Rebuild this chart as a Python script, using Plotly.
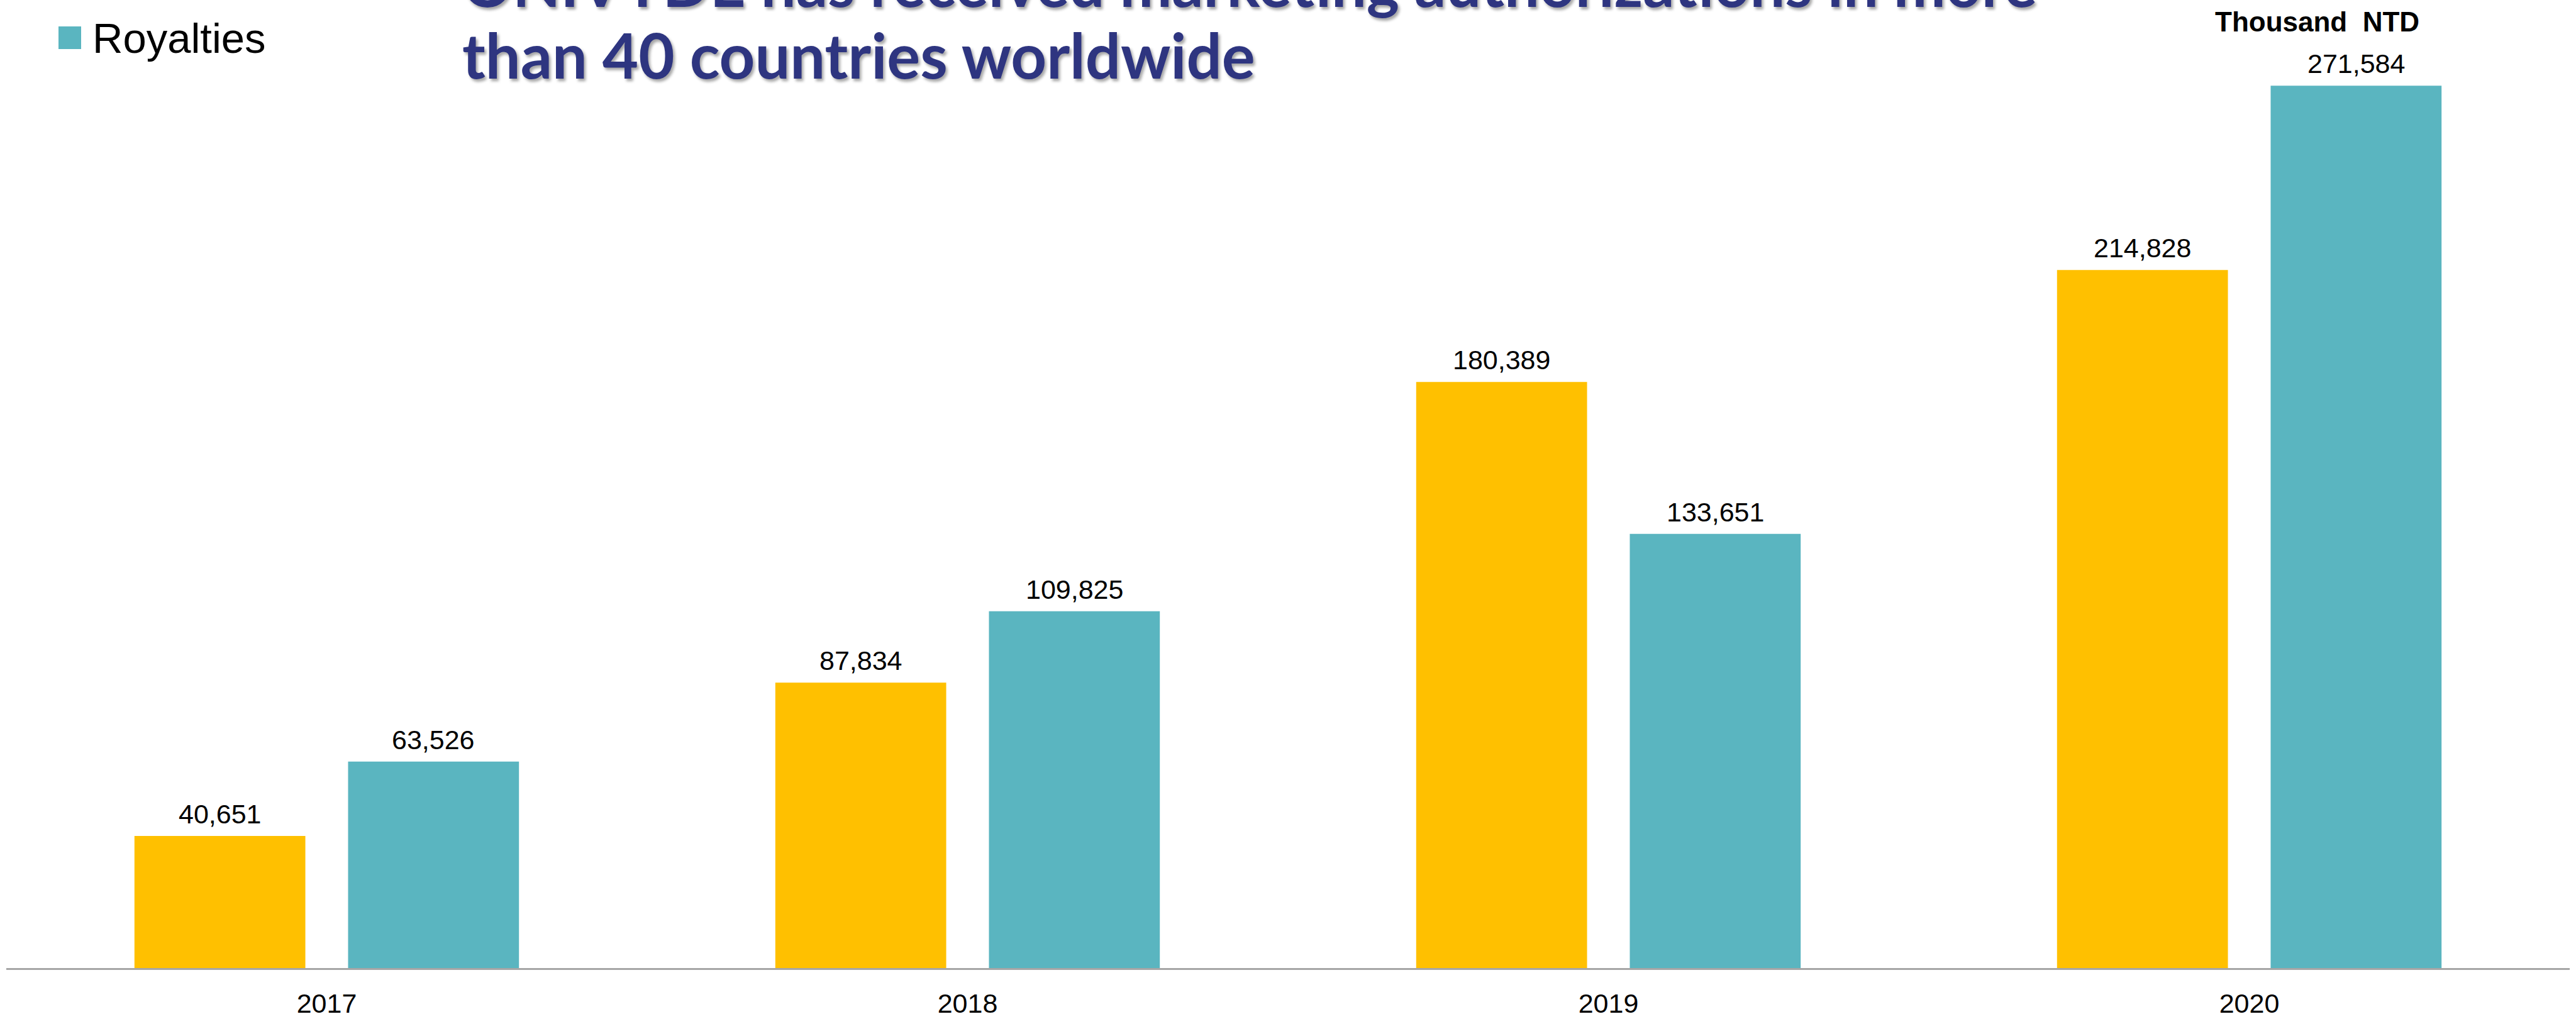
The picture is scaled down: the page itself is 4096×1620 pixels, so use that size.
import plotly.graph_objects as go

years = ["2017", "2018", "2019", "2020"]
other_revenue = [40651, 87834, 180389, 214828]
royalties = [63526, 109825, 133651, 271584]

title_line1 = "ONIVYDE has received marketing authorizations in more"
title_line2 = "than 40 countries worldwide"
legend_label = "Royalties"
unit_label = "Thousand  NTD"

YELLOW = "#FFC000"
TEAL = "#5AB5C0"
NAVY = "#2E3580"

W, H = 4096, 1620
ML, MR, MT, MB = 10, 10, 0, 81
PW, PH = W - ML - MR, H - MT - MB

BARGAP, GROUPGAP = 1 / 3, 0.2
LABEL_FONT = dict(family="Liberation Sans, Arial", size=43, color="black")


def px(x):
    return (x - ML) / PW


def py(y):
    return 1 - (y - MT) / PH


fig = go.Figure()
fig.add_trace(go.Bar(
    x=years, y=other_revenue, name="Other revenue", showlegend=False,
    marker=dict(color=YELLOW, line=dict(width=0)),
))
fig.add_trace(go.Bar(
    x=years, y=royalties, name=legend_label, showlegend=False,
    marker=dict(color=TEAL, line=dict(width=0)),
))

# value labels above bars, anchored at the data values (category index on x)
cat_px = PW / len(years)
slot_px = cat_px * (1 - BARGAP) / 2
for series, side in ((other_revenue, -1), (royalties, 1)):
    for i, v in enumerate(series):
        fig.add_annotation(x=i, y=v, xref="x", yref="y", text=f"{v:,}",
                           xanchor="center", yanchor="bottom",
                           xshift=side * slot_px / 2, yshift=9,
                           showarrow=False, font=LABEL_FONT)

fig.update_layout(
    width=W, height=H,
    margin=dict(l=ML, r=MR, t=MT, b=MB, pad=0, autoexpand=False),
    paper_bgcolor="white", plot_bgcolor="white",
    barmode="group", bargap=BARGAP, bargroupgap=GROUPGAP,
    showlegend=False,
    font=dict(family="Liberation Sans, Arial", color="black"),
    xaxis=dict(
        type="category", automargin=False, range=[-0.5, len(years) - 0.5],
        showline=True, linecolor="#A6A6A6", linewidth=3,
        showgrid=False, zeroline=False, ticks="",
        tickfont=dict(family="Liberation Sans, Arial", size=43, color="black"),
        ticklabelstandoff=16,
    ),
    yaxis=dict(visible=False, range=[0, 297950], showgrid=False, zeroline=False),
)

title_font = dict(family="Lato, Open Sans, sans-serif", size=99, color=NAVY,
                  weight=700, shadow="3px 4px 4px rgba(0,0,0,0.35)")
fig.add_annotation(text=title_line1, xref="paper", yref="paper",
                   x=px(733), y=py(-27), xanchor="left", yanchor="middle",
                   showarrow=False, font=title_font)
fig.add_annotation(text=title_line2, xref="paper", yref="paper",
                   x=px(733), y=py(86), xanchor="left", yanchor="middle",
                   showarrow=False, font=title_font)

# legend (manual, large square swatch)
fig.add_shape(type="rect", xref="paper", yref="paper",
              x0=px(93), x1=px(129), y0=py(78), y1=py(42),
              fillcolor=TEAL, line=dict(width=0))
fig.add_annotation(text=legend_label, xref="paper", yref="paper",
                   x=px(145), y=py(60), xanchor="left", yanchor="middle",
                   showarrow=False,
                   font=dict(family="Liberation Sans, Arial", size=67, color="black"))

fig.add_annotation(text="<b>" + unit_label + "</b>", xref="paper", yref="paper",
                   x=px(3520), y=py(34), xanchor="left", yanchor="middle",
                   showarrow=False,
                   font=dict(family="Liberation Sans, Arial", size=44, color="black"))

fig.write_html("out.html")
